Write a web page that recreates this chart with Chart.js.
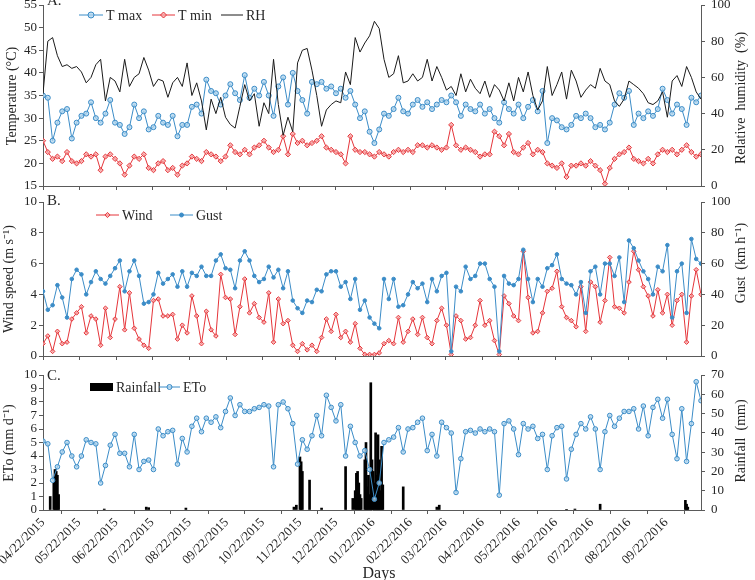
<!DOCTYPE html>
<html>
<head>
<meta charset="utf-8">
<script src="https://cdn.jsdelivr.net/npm/chart.js@4.4.0/dist/chart.umd.min.js"></script>
<style>
html, body { margin: 0; padding: 0; background: #fff; overflow: hidden; }
#wrap { position: relative; width: 755px; height: 580px; }
canvas { position: absolute; left: 0; }
</style>
</head>
<body>
<div id="wrap">
  <canvas id="chartA" width="755" height="195" style="top:0px"></canvas>
  <canvas id="chartB" width="755" height="170" style="top:195px"></canvas>
  <canvas id="chartC" width="755" height="222" style="top:365px"></canvas>
</div>
<script>
// ---------- data (one sample every 4 days from 04/22/2015) ----------
const stepDays = 4;
const lastDay = 548;

const tickLabels = ['04/22/2015', '05/22/2015', '06/22/2015', '07/22/2015', '08/22/2015', '09/22/2015',
  '10/22/2015', '11/22/2015', '12/22/2015', '01/22/2016', '02/22/2016', '03/22/2016',
  '04/22/2016', '05/22/2016', '06/22/2016', '07/22/2016', '08/22/2016', '09/22/2016'];

// A. temperature (°C) and relative humidity (%)
const tMax = [
  35, 34.5, 25, 29, 31.5, 32, 25.5, 29, 30.5, 31,
  33.5, 30, 29, 31, 34, 29, 28.5, 26.5, 28, 33,
  30, 31.5, 27.5, 28, 30.5, 29, 28.5, 30.5, 26, 28.5,
  28.5, 32.5, 33, 31, 38.5, 36, 35.5, 33, 35, 37.5,
  35.5, 34, 39.5, 34.5, 36.5,
  35, 38, 35, 30.5, 37, 39, 33, 40, 36, 34,
  31, 38, 37.5, 38, 36.5, 37, 35.5, 36.5, 34.5, 36,
  33, 30, 31.5, 27, 24.5, 27.5, 31, 30.5, 32, 34.5,
  31.5, 31, 33, 34, 32.5, 33.5, 32, 33, 34, 33.5,
  35, 33.5, 30.5, 33, 32, 31.5, 33, 31, 32, 30,
  29, 33.5,
  32, 31, 33, 30, 32.5, 34, 31.5, 36, 24.5, 30,
  29.5, 28, 27.5, 28.5, 30.5, 30, 31, 30, 28, 28.5,
  27.5, 29, 33, 35.5, 34.5, 36, 28.5, 31, 30, 31.5,
  30.5, 32, 36.5, 34, 31, 33, 32, 28.5, 34.5, 33.5,
  35
];
const tMin = [
  25, 22.5, 21, 21.5, 20.5, 22.5, 20.5, 20, 20.5, 22,
  21.5, 22, 18.5, 21.5, 22, 21, 20, 17.5, 19.5, 21.5,
  21, 22, 19, 18.5, 20, 20.5, 18.5, 19, 17.5, 19.5,
  20, 21.5, 21, 20.5, 22.5, 22, 21.5, 20.5, 21.5, 24,
  22.5, 22, 23, 22, 23.5,
  24, 25, 23.5, 22.5, 23, 26, 22, 26.5, 24.5, 25,
  24, 24.5, 25, 26, 23.5, 23, 22.5, 22, 20, 26,
  23, 22.5, 22.5, 22, 21.5, 22.5, 22, 21.5, 22.5, 23,
  22.5, 23, 22.5, 24, 24, 23.5, 24, 23.5, 23, 23.5,
  28.5, 24, 23, 23.5, 23, 22.5, 21.5, 22, 22, 27,
  26, 24,
  26.5, 22.5, 22, 23.5, 24.5, 22, 23, 22.5, 20, 19.5,
  19, 20, 17, 19.5, 19.5, 20, 19.5, 20.5, 19.5, 18.5,
  15.5, 19, 21, 22, 22.5, 23.5, 21, 20.5, 20, 21,
  20, 22, 23, 22.5, 23, 22, 23, 24, 22.5, 21.5,
  22
];
const rh = [
  51, 80, 82, 72, 66, 67, 65, 66, 63, 57,
  60, 67, 70, 47, 60, 58, 52, 70, 55, 60,
  62, 71, 64, 55, 59, 58, 49, 57, 60, 55,
  68, 50, 57, 47, 31, 48, 40, 49, 38, 34,
  32, 44, 56, 47, 51,
  33, 46, 40, 70, 45, 28, 38, 30, 68, 75,
  76, 64, 50, 33, 42, 45, 47, 46, 63, 56,
  82, 74, 79, 83, 91, 87, 70, 60, 62, 72,
  57, 58, 62, 58, 60, 70, 58, 66, 60, 53,
  55, 50, 62, 52, 59, 54, 51, 58, 49, 56,
  53, 47,
  57, 47, 60, 52, 63, 50, 42, 47, 66, 50,
  56, 63, 48, 64, 58, 49, 53, 56, 54, 65,
  58, 56, 47, 44, 48, 58, 56, 54, 51, 46,
  45, 47, 52, 38, 58, 61, 55, 66, 60, 52,
  48
];

// B. wind speed (m/s) and gust (km/h)
const wind = [
  0.8, 1.3, 0.3, 1.6, 0.8, 0.9, 2.4, 2.8, 3.2, 1.5,
  2.6, 2.4, 0.7, 3.1, 1.2, 2.4, 4.5, 1.7, 4.1, 1.8,
  1.1, 0.7, 0.5, 3.6, 3.7, 2.6, 2.6, 2.7, 1.1, 2.0,
  1.5, 3.9, 2.6, 0.8, 2.9, 1.7, 1.3, 5.3, 3.8, 3.7,
  1.4, 3.2, 5.0, 2.8, 3.4,
  2.5, 2.2, 4.1, 0.9, 3.7, 2.1, 2.3, 0.7, 0.3, 0.8,
  0.4, 0.7, 0.3, 1.2, 2.4, 1.6, 2.7, 1.2, 1.6, 0.9,
  2.1, 0.5, 0.1, 0.1, 0.1, 0.2, 0.8, 1.0, 0.8, 2.5,
  0.9, 1.6, 2.4, 1.4, 2.5, 1.2, 0.8, 2.3, 3.1, 2.0,
  0.1, 2.6, 2.3, 1.1, 1.2, 2.0, 3.6, 2.0, 2.3, 1.0,
  0.1, 3.9,
  3.4, 2.6, 2.3, 6.8, 3.8, 1.5, 1.6, 2.8, 4.2, 4.4,
  5.5, 3.2, 2.5, 2.3, 1.9, 4.5, 1.6, 4.8, 4.5, 2.2,
  3.6, 6.4, 3.2, 3.1, 2.8, 4.8, 6.8, 5.6, 4.5, 3.9,
  2.6, 4.3, 2.8, 4.0, 2.0, 3.6, 4.0, 0.9, 3.9, 5.6,
  4.0
];
const gust = [
  42, 30, 33, 46, 38, 25, 50, 56, 53, 40,
  48, 55, 50, 47, 52, 57, 62, 42, 55, 62,
  52, 34, 35, 40, 54, 47, 50, 53, 45, 55,
  45, 54, 52, 58, 52, 52, 62, 66, 57, 56,
  44, 62, 68, 62, 52,
  48, 50, 58, 51, 56, 44, 55, 36, 31, 28,
  36, 35, 43, 42, 53, 55, 55, 45, 48, 37,
  50, 30, 36, 25, 21, 18, 50, 37, 50, 32,
  33, 40, 48, 44, 47, 35, 50, 42, 52, 54,
  3, 45, 42, 58, 50, 52, 60, 60, 50, 45,
  3, 52,
  47, 46, 50, 69, 50, 35, 50, 45, 57, 59,
  66, 50, 47, 46, 40, 48, 28, 55, 58, 40,
  60, 60, 52, 64, 35, 75, 70, 62, 55, 50,
  40, 58, 55, 72, 25, 55, 60, 28, 76, 63,
  60
];

// C. reference evapotranspiration (mm/d) and rainfall events (mm)
const eto = [
  5.1, 4.9, 2.2, 3.2, 4.3, 5.0, 4.0, 3.2, 4.0, 5.2,
  5.0, 4.9, 2.0, 3.3, 4.8, 5.6, 4.2, 4.2, 3.2, 5.6,
  3.0, 3.6, 3.7, 3.0, 6.0, 5.5, 5.8, 5.9, 3.4, 5.3,
  4.3, 6.2, 6.8, 5.8, 6.8, 6.5, 6.9, 6.1, 7.3, 8.3,
  7.0, 7.8, 7.3, 7.3, 7.5,
  7.6, 7.8, 7.7, 3.2, 7.8, 8.0, 7.5, 6.4, 3.4, 5.2,
  4.5, 5.5, 7.0, 5.5, 8.5, 7.6, 6.6, 7.8, 4.0, 6.2,
  5.0, 4.0, 4.4, 3.0, 0.8, 2.0, 5.0, 5.2, 5.4, 6.1,
  4.3, 6.0, 6.1, 6.5, 6.8, 4.4, 5.6, 4.0, 6.5, 6.1,
  5.7, 1.3, 3.8, 5.8, 5.9, 5.7, 6.0, 5.8, 6.0, 5.8,
  1.1, 6.4,
  6.6, 6.0, 4.1, 6.4, 6.0, 6.2, 5.3, 5.6, 3.0, 5.5,
  6.1, 6.2, 2.3, 4.5, 5.6, 6.4, 6.0, 6.9, 6.0, 3.0,
  5.8, 7.0, 6.2, 6.8, 7.3, 7.3, 7.5, 6.0, 7.7, 5.5,
  7.6, 8.2, 6.8, 8.2, 5.6, 3.8, 7.5, 3.6, 6.4, 9.5,
  8.1
];
const rainDays = [6, 9, 10, 11, 12, 13, 51, 86, 88, 119,
  209, 211, 214, 215, 216, 222, 232, 252, 258, 260,
  261, 262, 263, 264, 265, 268, 269, 270, 271, 272,
  273, 274, 275, 276, 277, 278, 279, 280, 281, 282,
  283, 300, 328, 330, 436, 443, 464, 535, 536, 537];
const rainMm = [7, 14, 21, 20, 18, 8, 0.5, 1.5, 1.2, 1,
  1.5, 2.5, 27.5, 25, 20, 15.5, 1, 22.5, 6, 10,
  19, 20, 14, 8, 6, 26, 35, 12, 18, 8,
  66, 26, 20, 14, 40, 18, 39, 26, 10, 33,
  13, 12, 1.5, 2.5, 0.3, 0.5, 3, 5, 3, 1.5];

// ---------- helpers ----------
const FONT = "'Liberation Serif', 'Times New Roman', serif";
const AXIS = '#5a5a5a';
const TEXT = '#262626';
const BLUE = '#3b8cc7';
const BLUE_FILL = 'rgba(175,212,238,0.75)';
const RED = '#e5353a';
const RED_FILL = 'rgba(245,165,165,0.75)';

const day0 = Date.UTC(2015, 3, 22);
const tickDays = tickLabels.map(function (s) {
  const p = s.split('/');
  return Math.round((Date.UTC(+p[2], +p[0] - 1, +p[1]) - day0) / 86400000);
});
const sampleDays = tMax.map(function (v, i) { return i * stepDays; });

function pts(arr) {
  return arr.map(function (v, i) { return { x: sampleDays[i], y: v }; });
}

function xAxis(showLabels, height) {
  return {
    type: 'linear', min: 0, max: lastDay, offset: false,
    grid: { drawOnChartArea: false, drawTicks: true, tickLength: 4, color: AXIS },
    border: { color: AXIS, width: 1 },
    afterBuildTicks: function (s) { s.ticks = tickDays.map(function (v) { return { value: v }; }); },
    afterFit: function (s) { s.height = height; s.paddingLeft = 0; s.paddingRight = 0; },
    ticks: {
      display: showLabels, autoSkip: false, maxRotation: 45, minRotation: 45,
      color: TEXT, font: { family: FONT, size: 13 }, padding: 1,
      callback: function (v) { return tickLabels[tickDays.indexOf(v)]; }
    }
  };
}

function yAxis(pos, min, max, step) {
  return {
    type: 'linear', position: pos, min: min, max: max,
    ticks: { stepSize: step, autoSkip: false, color: TEXT, font: { family: FONT, size: 13 }, padding: pos === 'left' ? 2 : 6 },
    grid: { drawOnChartArea: false, tickLength: 4, color: AXIS },
    border: { color: AXIS, width: 1 },
    afterFit: function (s) {
      s.width = pos === 'left' ? 43 : 54;
      s.paddingTop = 0; s.paddingBottom = 0;
    }
  };
}

// draws panel letter, axis titles and legend
const overlay = {
  id: 'overlay',
  afterDraw: function (chart, args, o) {
    const ctx = chart.ctx;
    ctx.save();
    ctx.fillStyle = TEXT;
    ctx.font = '15px ' + FONT;
    ctx.textAlign = 'left';
    ctx.textBaseline = 'alphabetic';
    ctx.fillText(o.panel, 47, o.panelY);

    ctx.font = '14px ' + FONT;
    o.titles.forEach(function (t) {
      ctx.save();
      ctx.translate(t.x, t.y);
      ctx.rotate(-Math.PI / 2);
      ctx.textAlign = 'center';
      ctx.textBaseline = 'middle';
      ctx.fillText(t.text, 0, 0);
      ctx.restore();
    });

    o.legend.forEach(function (it) {
      if (it.kind === 'bar') {
        ctx.fillStyle = '#000';
        ctx.fillRect(it.x1, it.y - 4, it.x2 - it.x1, 8);
      } else {
        ctx.strokeStyle = it.color;
        ctx.lineWidth = 1;
        ctx.beginPath();
        ctx.moveTo(it.x1, it.y);
        ctx.lineTo(it.x2, it.y);
        ctx.stroke();
        const mx = (it.x1 + it.x2) / 2;
        if (it.marker === 'circle') {
          ctx.fillStyle = it.fill;
          ctx.beginPath();
          ctx.arc(mx, it.y, it.r, 0, Math.PI * 2);
          ctx.fill();
          ctx.stroke();
        } else if (it.marker === 'rectRot') {
          ctx.fillStyle = it.fill;
          ctx.beginPath();
          ctx.moveTo(mx, it.y - it.r);
          ctx.lineTo(mx + it.r, it.y);
          ctx.lineTo(mx, it.y + it.r);
          ctx.lineTo(mx - it.r, it.y);
          ctx.closePath();
          ctx.fill();
          ctx.stroke();
        }
      }
      ctx.fillStyle = TEXT;
      ctx.font = '14px ' + FONT;
      ctx.textAlign = 'left';
      ctx.textBaseline = 'middle';
      ctx.fillText(it.text, it.x2 + 3, it.y + 1);
    });

    if (o.xTitle) {
      ctx.fillStyle = TEXT;
      ctx.font = '16px ' + FONT;
      ctx.textAlign = 'center';
      ctx.textBaseline = 'alphabetic';
      ctx.fillText(o.xTitle, 379, 213);
    }
    ctx.restore();
  }
};

Chart.defaults.font.family = FONT;
Chart.defaults.color = TEXT;

function baseOptions(top, xHeight, showX, yL, yR, ov) {
  return {
    responsive: false, animation: false, devicePixelRatio: 1, events: [],
    layout: { padding: { top: top, left: 0, right: 0, bottom: 0 } },
    elements: { line: { tension: 0 } },
    scales: { x: xAxis(showX, xHeight), y: yL, yR: yR },
    plugins: { legend: { display: false }, tooltip: { enabled: false }, overlay: ov }
  };
}

// ---------- A. temperature / humidity ----------
new Chart(document.getElementById('chartA'), {
  type: 'line',
  data: {
    datasets: [
      { label: 'T max', data: pts(tMax), yAxisID: 'y', borderColor: BLUE, backgroundColor: BLUE_FILL,
        borderWidth: 1, pointRadius: 2.5, pointBorderWidth: 1, pointStyle: 'circle', order: 3 },
      { label: 'T min', data: pts(tMin), yAxisID: 'y', borderColor: RED, backgroundColor: RED_FILL,
        borderWidth: 1, pointRadius: 2.6, pointBorderWidth: 1, pointStyle: 'rectRot', order: 2 },
      { label: 'RH', data: pts(rh), yAxisID: 'yR', borderColor: '#1a1a1a', borderWidth: 1, pointRadius: 0, order: 1 }
    ]
  },
  options: baseOptions(5, 9, false, yAxis('left', 15, 55, 5), yAxis('right', 0, 100, 20), {
    panel: 'A.', panelY: 5,
    titles: [
      { text: 'Temperature (\u00B0C)', x: 12, y: 96 },
      { text: 'Relative  humidity  (%)', x: 741, y: 98 }
    ],
    legend: [
      { x1: 79, x2: 103, y: 15, color: BLUE, marker: 'circle', fill: BLUE_FILL, r: 3, text: 'T max' },
      { x1: 152, x2: 175, y: 15, color: RED, marker: 'rectRot', fill: RED_FILL, r: 3, text: 'T min' },
      { x1: 221, x2: 243, y: 15, color: '#1a1a1a', marker: null, text: 'RH' }
    ]
  }),
  plugins: [overlay]
});

// ---------- B. wind / gust ----------
new Chart(document.getElementById('chartB'), {
  type: 'line',
  data: {
    datasets: [
      { label: 'Wind', data: pts(wind), yAxisID: 'y', borderColor: RED, backgroundColor: RED_FILL,
        borderWidth: 1, pointRadius: 2.3, pointBorderWidth: 1, pointStyle: 'rectRot', order: 2 },
      { label: 'Gust', data: pts(gust), yAxisID: 'yR', borderColor: BLUE, backgroundColor: BLUE,
        borderWidth: 1, pointRadius: 1.8, pointBorderWidth: 1, pointStyle: 'circle', order: 1 }
    ]
  },
  options: baseOptions(7, 9, false, yAxis('left', 0, 10, 2), yAxis('right', 0, 100, 20), {
    panel: 'B.', panelY: 10,
    titles: [
      { text: 'Wind speed (m s\u207B\u00B9)', x: 9, y: 84 },
      { text: 'Gust  (km h\u207B\u00B9)', x: 741, y: 68 }
    ],
    legend: [
      { x1: 96, x2: 119, y: 20, color: RED, marker: 'rectRot', fill: RED_FILL, r: 2.6, text: 'Wind' },
      { x1: 170, x2: 193, y: 20, color: BLUE, marker: 'circle', fill: BLUE, r: 2, text: 'Gust' }
    ]
  }),
  plugins: [overlay]
});

// ---------- C. ETo / rainfall ----------
new Chart(document.getElementById('chartC'), {
  type: 'line',
  data: {
    datasets: [
      { type: 'bar', label: 'Rainfall', yAxisID: 'yR', backgroundColor: '#000', barThickness: 2, grouped: false,
        data: rainDays.map(function (d, i) { return { x: d, y: rainMm[i] }; }), order: 2 },
      { label: 'ETo', data: pts(eto), yAxisID: 'y', borderColor: BLUE, backgroundColor: BLUE_FILL,
        borderWidth: 1, pointRadius: 2.3, pointBorderWidth: 1, pointStyle: 'circle', order: 1 }
    ]
  },
  options: baseOptions(10, 77, true, yAxis('left', 0, 10, 1), yAxis('right', 0, 70, 10), {
    panel: 'C.', panelY: 15, xTitle: 'Days',
    titles: [
      { text: 'ETo (mm d\u207B\u00B9)', x: 9, y: 78 },
      { text: 'Rainfall  (mm)', x: 741, y: 76 }
    ],
    legend: [
      { kind: 'bar', x1: 90, x2: 113, y: 22, text: 'Rainfall' },
      { x1: 159, x2: 180, y: 22, color: BLUE, marker: 'circle', fill: BLUE_FILL, r: 2.5, text: 'ETo' }
    ]
  }),
  plugins: [overlay]
});
</script>
</body>
</html>
